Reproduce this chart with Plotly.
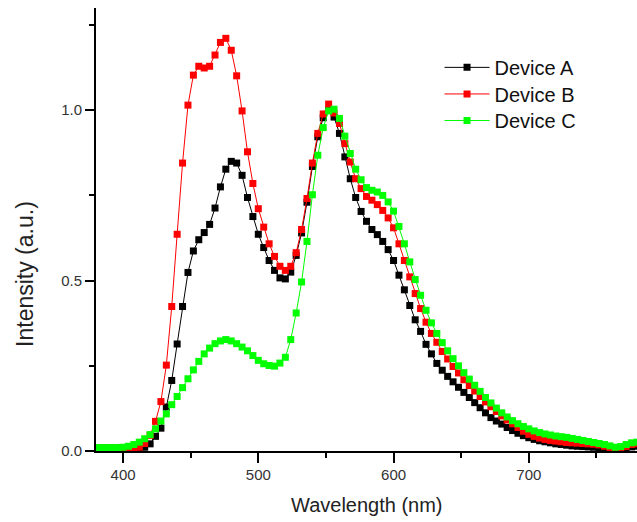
import plotly.graph_objects as go

wavelength = [380, 384, 388, 392, 396, 400, 404, 408, 412, 416, 420, 424, 428, 432, 436, 440,
              444, 448, 452, 456, 460, 464, 468, 472, 476, 480, 484, 488, 492, 496, 500, 504,
              508, 512, 516, 520, 524, 528, 532, 536, 540, 544, 548, 552, 556, 560, 564, 568,
              572, 576, 580, 584, 588, 592, 596, 600, 604, 608, 612, 616, 620, 624, 628, 632,
              636, 640, 644, 648, 652, 656, 660, 664, 668, 672, 676, 680, 684, 688, 692, 696,
              700, 704, 708, 712, 716, 720, 724, 728, 732, 736, 740, 744, 748, 752, 756, 760,
              764, 768, 772, 776, 780]

device_a = [0.008, 0.008, 0.008, 0.008, 0.008, 0.008, 0.007, 0.007, 0.008, 0.011, 0.021, 0.043,
            0.067, 0.129, 0.207, 0.314, 0.424, 0.524, 0.587, 0.620, 0.641, 0.665, 0.713, 0.775,
            0.827, 0.850, 0.845, 0.809, 0.744, 0.688, 0.636, 0.597, 0.559, 0.530, 0.508, 0.505,
            0.525, 0.574, 0.640, 0.730, 0.835, 0.922, 0.978, 1.000, 0.980, 0.932, 0.863, 0.799,
            0.744, 0.703, 0.674, 0.650, 0.635, 0.615, 0.591, 0.559, 0.516, 0.473, 0.427, 0.385,
            0.351, 0.313, 0.285, 0.257, 0.237, 0.219, 0.203, 0.187, 0.172, 0.157, 0.142, 0.127,
            0.112, 0.098, 0.088, 0.079, 0.069, 0.060, 0.052, 0.045, 0.039, 0.034, 0.030, 0.027,
            0.024, 0.021, 0.019, 0.017, 0.015, 0.014, 0.013, 0.012, 0.011, 0.010, 0.009, 0.006,
            0.004, 0.005, 0.008, 0.012, 0.014]

device_b = [0.010, 0.010, 0.010, 0.010, 0.010, 0.010, 0.010, 0.010, 0.011, 0.022, 0.046, 0.087,
            0.145, 0.252, 0.424, 0.636, 0.845, 1.015, 1.103, 1.129, 1.124, 1.129, 1.162, 1.199,
            1.211, 1.176, 1.101, 0.998, 0.878, 0.785, 0.711, 0.657, 0.608, 0.571, 0.542, 0.530,
            0.542, 0.582, 0.650, 0.741, 0.845, 0.932, 0.989, 1.018, 0.992, 0.961, 0.902, 0.848,
            0.799, 0.770, 0.747, 0.736, 0.723, 0.706, 0.684, 0.655, 0.608, 0.559, 0.511, 0.462,
            0.418, 0.378, 0.345, 0.319, 0.292, 0.270, 0.248, 0.229, 0.209, 0.192, 0.176, 0.160,
            0.144, 0.130, 0.116, 0.103, 0.091, 0.080, 0.069, 0.058, 0.049, 0.043, 0.038, 0.034,
            0.031, 0.029, 0.027, 0.025, 0.024, 0.023, 0.022, 0.021, 0.020, 0.018, 0.014, 0.009,
            0.006, 0.008, 0.013, 0.019, 0.021]

device_c = [0.010, 0.010, 0.010, 0.010, 0.010, 0.011, 0.014, 0.019, 0.026, 0.036, 0.048, 0.065,
            0.088, 0.109, 0.136, 0.160, 0.186, 0.212, 0.238, 0.263, 0.285, 0.302, 0.315, 0.323,
            0.327, 0.323, 0.315, 0.305, 0.294, 0.280, 0.266, 0.256, 0.251, 0.249, 0.258, 0.275,
            0.327, 0.405, 0.496, 0.615, 0.752, 0.868, 0.949, 0.998, 1.003, 0.976, 0.924, 0.873,
            0.827, 0.796, 0.773, 0.765, 0.760, 0.750, 0.731, 0.704, 0.659, 0.608, 0.555, 0.503,
            0.457, 0.413, 0.376, 0.345, 0.318, 0.294, 0.271, 0.250, 0.230, 0.211, 0.193, 0.175,
            0.157, 0.141, 0.126, 0.112, 0.100, 0.089, 0.080, 0.072, 0.065, 0.059, 0.054, 0.050,
            0.047, 0.044, 0.042, 0.040, 0.037, 0.034, 0.031, 0.028, 0.025, 0.022, 0.019, 0.015,
            0.011, 0.013, 0.019, 0.024, 0.026]

series_names = ["Device A", "Device B", "Device C"]
series_values = [device_a, device_b, device_c]
series_colors = ["#000000", "#ff0000", "#00ff00"]
legend_ids = ["legend", "legend2", "legend3"]
legend_rows = [0.866, 0.806, 0.746]

x_ticks = [400, 500, 600, 700]
y_ticks = [0.0, 0.5, 1.0]

FONT = "Liberation Sans, Arial, sans-serif"

fig = go.Figure()
for name, vals, col, lg in zip(series_names, series_values, series_colors, legend_ids):
    fig.add_trace(go.Scatter(
        x=wavelength, y=vals, name=name, mode="lines+markers",
        line=dict(color=col, width=1),
        marker=dict(symbol="square", size=7, color=col, line=dict(width=0)),
        legend=lg,
    ))

axis_common = dict(
    showline=True, linecolor="#000000", linewidth=2,
    ticks="outside", tickcolor="#000000", tickwidth=2,
    showgrid=False, zeroline=False, mirror=False,
    tickfont=dict(family=FONT, size=15, color="#333333"),
)

fig.update_xaxes(
    range=[380, 780], tickvals=x_ticks, ticklen=10, ticklabelstandoff=-1,
    minor=dict(ticks="outside", dtick=50, tick0=400, ticklen=5, tickwidth=2, tickcolor="#000000"),
    **axis_common,
)
fig.update_yaxes(
    range=[0, 1.3], tickvals=y_ticks, ticktext=[f"{v:.1f}" for v in y_ticks], ticklen=9,
    minor=dict(ticks="outside", dtick=0.25, tick0=0, ticklen=5, tickwidth=2, tickcolor="#000000"),
    **axis_common,
)

fig.add_annotation(text="Wavelength (nm)", xref="paper", yref="paper", x=0.5, y=-0.122,
                   xanchor="center", yanchor="middle", showarrow=False,
                   font=dict(family=FONT, size=20, color="#222222"))
fig.add_annotation(text="Intensity (a.u.)", xref="paper", yref="paper", x=-0.131, y=0.40,
                   xanchor="center", yanchor="middle", showarrow=False, textangle=-90,
                   font=dict(family=FONT, size=23, color="#222222"))

legend_style = dict(xanchor="left", yanchor="middle", bgcolor="rgba(0,0,0,0)", borderwidth=0,
                    font=dict(family=FONT, size=20, color="#111111"), itemwidth=45)

fig.update_layout(
    width=637, height=522,
    margin=dict(l=96, r=0, t=8, b=71),
    paper_bgcolor="white", plot_bgcolor="white",
    showlegend=True,
    legend=dict(x=0.635, y=legend_rows[0], **legend_style),
    legend2=dict(x=0.635, y=legend_rows[1], **legend_style),
    legend3=dict(x=0.635, y=legend_rows[2], **legend_style),
)

fig.write_html(
    "out.html",
    config={"displayModeBar": False},
    post_script="document.body.style.margin='0';document.documentElement.style.overflow='hidden';",
)
